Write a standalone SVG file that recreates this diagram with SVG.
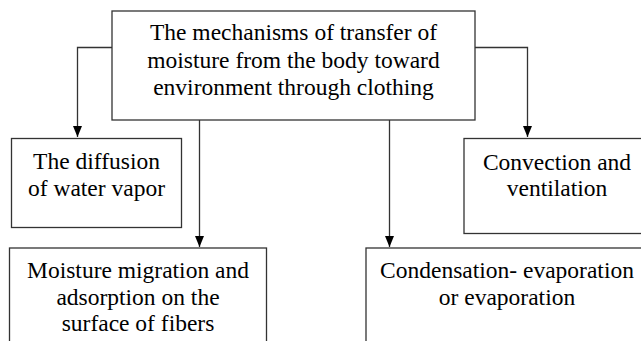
<svg xmlns="http://www.w3.org/2000/svg" width="641" height="341" viewBox="0 0 641 341">
  <defs>
    <marker id="arrow" markerUnits="userSpaceOnUse" viewBox="0 0 11 9" refX="11" refY="4.5" markerWidth="11" markerHeight="9" orient="auto">
      <path d="M0,0 L11,4.5 L0,9 Z" fill="#000"/>
    </marker>
    <style>
      .box { fill: #fff; stroke: #333; stroke-width: 1.3; }
      .conn { fill: none; stroke: #333; stroke-width: 1.3; marker-end: url(#arrow); }
      .t { font-size: 23.5px; fill: #000; text-anchor: middle; }
    </style>
  </defs>
  <rect width="641" height="341" fill="#fff"/>
  <g id="connectors">
    <path class="conn" d="M112,47.5 H77.5 V137"/>
    <path class="conn" d="M475,47.5 H527.5 V137"/>
    <path class="conn" d="M199.5,120 V247"/>
    <path class="conn" d="M389.5,120 V247"/>
  </g>
  <g font-family="Liberation Serif, Times New Roman, serif">
  <g id="root">
    <rect class="box" x="112" y="11" width="363" height="109"/>
    <text class="t" x="293.5" y="40">The mechanisms of transfer of</text>
    <text class="t" x="293.5" y="67.5">moisture from the body toward</text>
    <text class="t" x="293.5" y="95">environment through clothing</text>
  </g>
  <g id="diffusion">
    <rect class="box" x="11.5" y="138.5" width="170" height="89"/>
    <text class="t" x="96.5" y="169">The diffusion</text>
    <text class="t" x="96.5" y="196">of water vapor</text>
  </g>
  <g id="convection">
    <rect class="box" x="464" y="138.5" width="186" height="95"/>
    <text class="t" x="557" y="170">Convection and</text>
    <text class="t" x="557" y="196">ventilation</text>
  </g>
  <g id="migration">
    <rect class="box" x="9.5" y="248" width="257" height="110"/>
    <text class="t" x="138" y="278">Moisture migration and</text>
    <text class="t" x="138" y="305">adsorption on the</text>
    <text class="t" x="138" y="331">surface of fibers</text>
  </g>
  <g id="condensation">
    <rect class="box" x="366" y="248" width="282" height="110"/>
    <text class="t" x="507" y="278">Condensation- evaporation</text>
    <text class="t" x="507" y="305">or evaporation</text>
  </g>
  </g>
</svg>
